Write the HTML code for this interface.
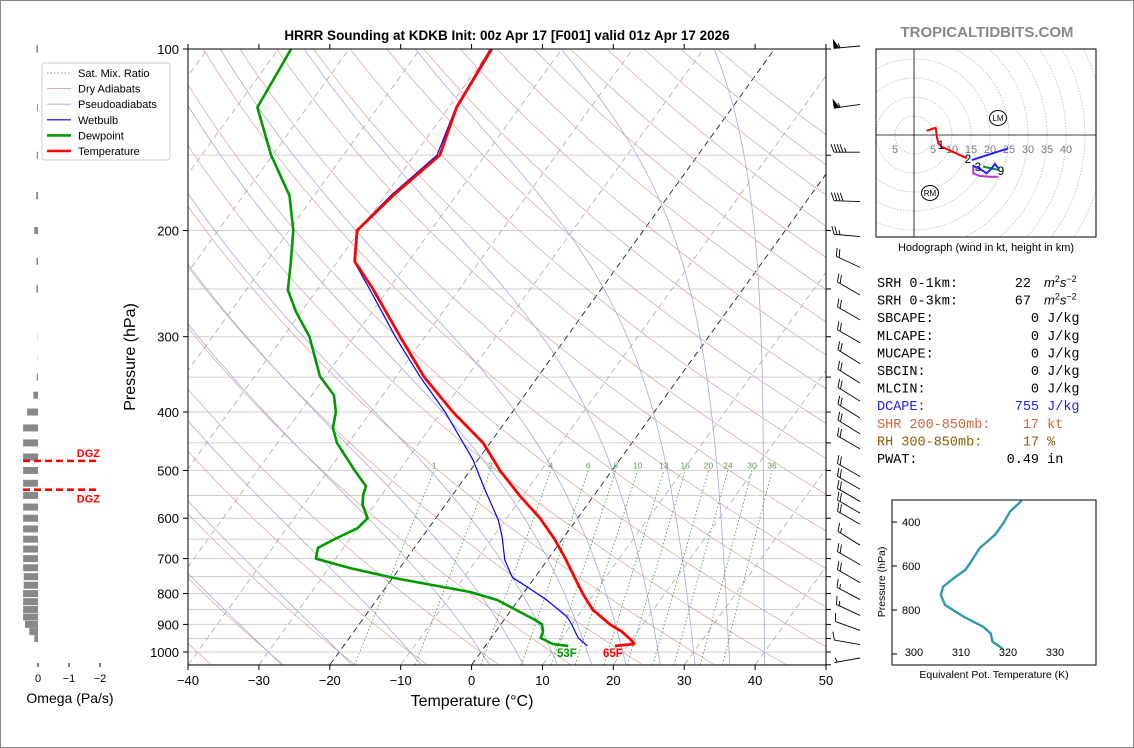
<!DOCTYPE html>
<html><head><meta charset="utf-8"><style>
html,body{margin:0;padding:0;background:#fff;}
svg{display:block;font-family:"Liberation Sans","DejaVu Sans",sans-serif;}
.mono{font-family:"Liberation Mono","DejaVu Sans Mono",monospace;font-size:13.5px;white-space:pre;}
</style></head><body>
<svg id="fig" width="1134" height="748" viewBox="0 0 1134 748" xmlns="http://www.w3.org/2000/svg">
<rect x="0.5" y="0.5" width="1133" height="747" fill="#fff" stroke="#888"/>
<defs><clipPath id="clipMain"><rect x="188" y="49" width="638" height="616"/></clipPath>
<clipPath id="clipHodo"><rect x="876" y="49" width="220" height="188"/></clipPath>
<clipPath id="clipTe"><rect x="892" y="500" width="204" height="165"/></clipPath></defs>
<text x="507" y="40" text-anchor="middle" font-size="13.5" font-weight="bold">HRRR Sounding at KDKB Init: 00z Apr 17 [F001] valid 01z Apr 17 2026</text>
<text x="987" y="37" text-anchor="middle" font-size="15" font-weight="bold" fill="#888">TROPICALTIDBITS.COM</text>
<g id="main"></g>
<g id="omega"></g>
<g id="hodo"></g>
<g id="te"></g>
<g id="stats"></g>
</svg>
<script>
// ---- Data ----
const tempP = [100,125,150,175,200,225,250,300,350,400,450,500,550,600,650,700,750,800,850,900,925,950,970];
const tempT = [-59.9,-58.9,-56.4,-58.9,-60.4,-57.6,-52.2,-43.5,-36.0,-28.4,-21.0,-15.8,-10.5,-5.3,-1.1,2.4,5.5,8.4,11.4,15.4,17.8,19.6,20.9];
const dewP = [100,125,150,175,200,225,251,273,300,349,375,400,425,450,500,531,549,570,600,623,652,672,700,726,754,795,820,858,885,900,926,948,970,977];
const dewT = [-88.2,-87.0,-80.2,-73.5,-69.4,-66.6,-64.1,-60.7,-56.3,-50.8,-46.9,-44.9,-43.7,-41.6,-36.3,-33.1,-32.6,-31.7,-29.6,-30.0,-32.3,-33.6,-32.8,-27.0,-19.7,-7.7,-3.0,1.4,4.4,5.8,6.7,7.0,9.3,11.7];
const wbP = [100,125,150,175,200,225,251,300,349,400,450,480,539,604,645,704,753,780,820,875,902,948,977];
const wbT = [-60.1,-59.0,-56.8,-59.2,-60.5,-57.7,-52.5,-44.2,-36.7,-29.5,-23.8,-20.7,-15.9,-11.0,-8.7,-6.0,-3.1,-0.1,4.0,8.6,10.1,12.3,14.4];
const xTicks = [-40,-30,-20,-10,0,10,20,30,40,50];
const yTicks = [100,200,300,400,500,600,700,800,900,1000];
const mixW = [1,2,4,6,8,10,13,16,20,24,30,36];
const dryT0 = [-40,-30,-20,-10,0,10,20,30,40,50,60,70,80,90,100,110,120,130,140,150,160,170,180,190,200];
const moistT0 = [-30,-20,-10,0,5,10,15,20,25,30,35,40];
const barbP = [100,125,150,175,200,225,250,275,300,325,350,375,400,425,450,500,525,550,575,600,650,700,750,800,850,900,950,1000];
const barbSpd = [55,55,45,40,25,20,20,20,20,20,20,20,20,20,20,20,20,20,20,20,15,20,20,15,15,10,10,5];
const barbDir = [265,262,270,272,275,295,300,300,300,302,302,302,302,302,300,300,300,300,300,300,302,300,300,298,295,290,280,260];
const omegaP = [100,125,150,175,200,225,250,300,325,350,375,400,425,450,475,500,525,550,575,600,625,650,675,700,725,750,775,800,825,850,875,900,925,950];
const omegaV = [0.05,0.03,0.04,0.06,0.12,0.05,0.05,0.03,0.03,0.04,0.15,0.35,0.48,0.48,0.48,0.48,0.48,0.48,0.48,0.48,0.48,0.48,0.48,0.48,0.48,0.46,0.46,0.48,0.48,0.48,0.48,0.42,0.28,0.12];
const omegaYellow = [0,0,0,0,0,0,0,1,1,0,0,0,0,0,0,0,0,0,0,0,0,0,0,0,0,0,0,0,0,0,0,0,0,0];
const dgzP = [482,538];
const hodoRedU = [3.3,5.7,6.0,6.4,7.3,13.9], hodoRedV = [1.1,1.9,-0.4,-2.2,-3.1,-6.1];
const hodoBlueU = [15.2,24.8], hodoBlueV = [-6.6,-3.5];
const hodoMagU = [15.6,15.6,17.4,20,22.2], hodoMagV = [-8.3,-10.1,-10.8,-11,-11];
const hodoGreenU = [18.2,22.2], hodoGreenV = [-8.3,-9.2];
const hodoBlue2U = [15.4,17.8,19.1,20.4,21.3,22.2], hodoBlue2V = [-8.0,-9.2,-10.1,-8.8,-7.6,-8.8];
const hodoRings = [5,10,15,20,25,30,35,40,45,50,55];
const teP = [303,353,406,459,518,588,618,656,694,732,777,830,876,906,944,967,979];
const teK = [322.9,320.4,319,317.2,314.0,311.9,310.9,308.4,306.2,305.7,306.6,310.5,314.7,316.3,316.7,318.3,319];
const teXTicks = [300,310,320,330];
const teYTicks = [400,600,800];

// ---- helpers ----
const NS = 'http://www.w3.org/2000/svg';
function mk(parent, tag, attrs, text){const e=document.createElementNS(NS,tag);for(const k in attrs)e.setAttribute(k,attrs[k]);if(text!==undefined)e.textContent=text;parent.appendChild(e);return e;}
const yP = p => 49 + 603*Math.log10(p/100);
const xT = (T,p) => 188 + (T+40)*7.0889 + (665 - yP(p))*0.722;
const ptsStr = (ps,ts) => ps.map((p,i)=>xT(ts[i],p).toFixed(1)+','+yP(p).toFixed(1)).join(' ');

const main = document.getElementById('main');
const bg = mk(main,'g',{'clip-path':'url(#clipMain)'});


for(let p=100;p<=1050;p+=50){const l=mk(bg,'line',{x1:188,x2:826,y1:yP(p),y2:yP(p),stroke:'#cfcfcf','stroke-width':1});

}
for(let T=-130;T<=50;T+=10){const hi=(T===0||T===-20);const l=mk(bg,'line',{x1:xT(T,1050),y1:yP(1050),x2:xT(T,100),y2:yP(100),stroke:hi?'#222':'#aaa','stroke-width':hi?0.9:0.8,'stroke-dasharray':'6,4'});

}
for(const t0 of dryT0){const th=t0+273.15;const pts=[];for(let p=1050;p>=100;p-=10){pts.push(xT(th*Math.pow(p/1000,0.2857)-273.15,p).toFixed(1)+','+yP(p).toFixed(1));}
const l=mk(bg,'polyline',{points:pts.join(' '),fill:'none',stroke:'#dcabab','stroke-width':0.8});

}
function es(T){return 6.112*Math.exp(17.67*T/(T+243.5));}
function dTdp(T,p){const Tk=T+273.15;const rs=0.622*es(T)/(p-es(T));const Rd=287,cp=1005,Lv=2.5e6;return (Rd*Tk+Lv*rs)/(p*(cp+Lv*Lv*rs*0.622/(Rd*Tk*Tk)));}
for(const t0 of moistT0){const pts=[];
 let Td=t0;for(let q=1000;q<1050;q+=5){Td+=dTdp(Td,q)*5;}
 let T=Td;for(let p=1050;p>=100;p-=5){pts.push(xT(T,p).toFixed(1)+','+yP(p).toFixed(1));T-=dTdp(T,p)*5;}
 const l=mk(bg,'polyline',{points:pts.join(' '),fill:'none',stroke:'#a8a8dc','stroke-width':0.8});
 
 }
function tdFromW(w,p){const e=w*p/(622+w);const a=Math.log(e/6.112);return 243.5*a/(17.67-a);}
for(const w of mixW){const l=mk(bg,'line',{x1:xT(tdFromW(w,1050),1050),y1:yP(1050),x2:xT(tdFromW(w,500),500),y2:yP(500),stroke:'#3c963c','stroke-width':0.8,'stroke-dasharray':'1.5,2.2'});


const t=mk(bg,'text',{x:xT(tdFromW(w,500),500),y:yP(500)-2,'font-size':8.5,fill:'#5a9a5a','text-anchor':'middle'},String(w));

}
const prof = mk(main,'g',{'clip-path':'url(#clipMain)'});
const wb=mk(prof,'polyline',{points:ptsStr(wbP,wbT),fill:'none',stroke:'#0000ff','stroke-width':1.2});


const dw=mk(prof,'polyline',{points:ptsStr(dewP,dewT),fill:'none',stroke:'#009900','stroke-width':2.6,'stroke-linejoin':'round'});


const tp=mk(prof,'polyline',{points:ptsStr(tempP,tempT),fill:'none',stroke:'#ff0000','stroke-width':2.8,'stroke-linejoin':'round'});


const t2=mk(prof,'line',{x1:xT(18.3,977),y1:yP(977),x2:xT(tempT[tempT.length-1],970),y2:yP(970),stroke:'#ff0000','stroke-width':2.8});


let lb=mk(main,'text',{x:557,y:657,'font-size':11.5,'font-weight':'bold',fill:'#009900'},'53F');


lb=mk(main,'text',{x:603,y:657,'font-size':11.5,'font-weight':'bold',fill:'#ff0000'},'65F');


const fr=mk(main,'rect',{x:188,y:49,width:638,height:616,fill:'none',stroke:'#000','stroke-width':1});


for(const T of xTicks){const x=188+(T+40)*7.0889;
 mk(main,'line',{x1:x,x2:x,y1:665,y2:670,stroke:'#000'});
 mk(main,'line',{x1:x,x2:x,y1:49,y2:44,stroke:'#000'});
 const t=mk(main,'text',{x:x,y:685,'font-size':13,'text-anchor':'middle'},T<0?'\u2212'+(-T):String(T));
 
 }
for(const p of yTicks){const y=yP(p);mk(main,'line',{x1:183,x2:188,y1:y,y2:y,stroke:'#000'});
 const t=mk(main,'text',{x:179,y:y+5,'font-size':13,'text-anchor':'end'},String(p));
 
 }
for(let p=100;p<=1050;p+=50){mk(main,'line',{x1:826,x2:831,y1:yP(p),y2:yP(p),stroke:'#000'});}
let ax=mk(main,'text',{x:472,y:706,'font-size':16,'text-anchor':'middle'},'Temperature (\u00B0C)');


ax=mk(main,'text',{x:0,y:0,'font-size':16,'text-anchor':'middle',transform:'translate(135,357) rotate(-90)'},'Pressure (hPa)');


// barbs
for(let i=0;i<barbP.length;i++){const g=mk(main,'g',{stroke:'#000','stroke-width':0.9,fill:'#000'});
 
 
 const bx=860,by=yP(barbP[i])+(barbP[i]<=150?-3:6);
 const a=(barbDir[i])*Math.PI/180;
 const dx=Math.sin(a),dy=-Math.cos(a);const L=26;
 const ex=bx+dx*L,ey=by+dy*L;mk(g,'line',{x1:bx,y1:by,x2:ex,y2:ey});
 const px=-dy,py=dx; // perpendicular (upward side)
 let s=Math.round(barbSpd[i]/5)*5,pos=0;
 while(s>=50){const x0=ex-dx*pos,y0=ey-dy*pos;mk(g,'polygon',{points:`${x0},${y0} ${x0+px*8},${y0+py*8} ${x0-dx*5},${y0-dy*5}`});pos+=6;s-=50;}
 while(s>=10){const x0=ex-dx*pos,y0=ey-dy*pos;mk(g,'line',{x1:x0,y1:y0,x2:x0+px*8+dx*3,y2:y0+py*8+dy*3});pos+=3;s-=10;}
 if(s>=5){if(pos===0)pos=3;const x0=ex-dx*pos,y0=ey-dy*pos;mk(g,'line',{x1:x0,y1:y0,x2:x0+px*4.5+dx*1.5,y2:y0+py*4.5+dy*1.5});}
}
const lg=mk(main,'g',{});


mk(lg,'rect',{x:42,y:63,width:128,height:97,rx:3,fill:'#fff',stroke:'#ccc'});
const legItems=[['Sat. Mix. Ratio','#3c963c',0.8,'1.5,2'],['Dry Adiabats','#d9a3a3',0.9,''],['Pseudoadiabats','#a3a3dc',0.9,''],['Wetbulb','#0000cc',1.2,''],['Dewpoint','#009900',2.6,''],['Temperature','#ff0000',2.6,'']];
legItems.forEach((it,i)=>{const y=73+i*15.6;const e=mk(lg,'line',{x1:47,x2:71,y1:y,y2:y,stroke:it[1],'stroke-width':it[2]});if(it[3])e.setAttribute('stroke-dasharray',it[3]);
 const t=mk(lg,'text',{x:78,y:y+4,'font-size':11},it[0]);
 
 });

// ---- omega panel ----
const om=document.getElementById('omega');
const xO=v=>38-v*31;
for(let i=0;i<omegaP.length;i++){const y=yP(omegaP[i]);const r=mk(om,'rect',{x:xO(omegaV[i]),y:y-3.5,width:38-xO(omegaV[i]),height:7,fill:omegaYellow[i]?'#ffff00':'#888'});
 
 }
for(const p of dgzP){const l=mk(om,'line',{x1:23,x2:100,y1:yP(p),y2:yP(p),stroke:'#ff0000','stroke-width':2.6,'stroke-dasharray':'7,4'});
 
 }
lb=mk(om,'text',{x:100,y:yP(dgzP[0])-4,'font-size':11,'font-weight':'bold',fill:'#ff0000','text-anchor':'end'},'DGZ');


lb=mk(om,'text',{x:100,y:yP(dgzP[1])+13,'font-size':11,'font-weight':'bold',fill:'#ff0000','text-anchor':'end'},'DGZ');


[0,-1,-2].forEach(v=>{const x=xO(v);mk(om,'line',{x1:x,x2:x,y1:663,y2:667,stroke:'#000'});
 const t=mk(om,'text',{x:x,y:682,'font-size':11,'text-anchor':'middle'},v===0?'0':'\u2212'+(-v));
 
 });
lb=mk(om,'text',{x:70,y:703,'font-size':14,'text-anchor':'middle'},'Omega (Pa/s)');



// ---- hodograph ----
const ho=document.getElementById('hodo');
const HX=914,HY=135,HS=3.8;
const hx=u=>HX+u*HS, hy=v=>HY-v*HS;
const hc=mk(ho,'g',{'clip-path':'url(#clipHodo)'});
for(const r of hodoRings){mk(hc,'circle',{cx:HX,cy:HY,r:r*HS,fill:'none',stroke:'#bbb','stroke-width':0.8,'stroke-dasharray':'1.5,1.5'});}
mk(hc,'line',{x1:876,x2:1096,y1:HY,y2:HY,stroke:'#000','stroke-width':0.8});
mk(hc,'line',{x1:HX,x2:HX,y1:49,y2:237,stroke:'#000','stroke-width':0.8});
[5,10,15,20,25,30,35,40].forEach(r=>{const t=mk(hc,'text',{x:hx(r),y:HY+18,'font-size':11,fill:'#777','text-anchor':'middle'},String(r));
 
 });
mk(hc,'text',{x:hx(-5),y:HY+18,'font-size':11,fill:'#777','text-anchor':'middle'},'5');
function hline(U,V,c,name){const l=mk(hc,'polyline',{points:U.map((u,i)=>hx(u)+','+hy(V[i])).join(' '),fill:'none',stroke:c,'stroke-width':2});
 
 }
hline(hodoMagU,hodoMagV,'#bb33cc','hodograph-3-6km');
hline(hodoGreenU,hodoGreenV,'#009900','hodograph-6-9km');
hline(hodoBlue2U,hodoBlue2V,'#2222ff','hodograph-upper');
hline(hodoRedU,hodoRedV,'#ff0000','hodograph-0-2km');
hline(hodoBlueU,hodoBlueV,'#2222ff','hodograph-2-3km');
[['1',941,149],['2',968,163],['3',978,171],['9',1001,175]].forEach(a=>mk(hc,'text',{x:a[1],y:a[2],'font-size':11.5,'text-anchor':'middle'},a[0]));
[['LM',998,118],['RM',930,193]].forEach(a=>{mk(hc,'ellipse',{cx:a[1],cy:a[2],rx:8.5,ry:7.5,fill:'none',stroke:'#000','stroke-width':1});
 const t=mk(hc,'text',{x:a[1],y:a[2]+3,'font-size':8,'text-anchor':'middle'},a[0]);
 
 });
mk(ho,'rect',{x:876,y:49,width:220,height:188,fill:'none',stroke:'#000'});
lb=mk(ho,'text',{x:986,y:251,'font-size':11,'text-anchor':'middle'},'Hodograph (wind in kt, height in km)');



// ---- theta-e ----
const te=document.getElementById('te');
const tx=k=>914+(k-300)*4.7, ty=p=>522+(p-400)*0.22;
const tl=mk(te,'polyline',{points:teP.map((p,i)=>tx(teK[i]).toFixed(1)+','+ty(p).toFixed(1)).join(' '),fill:'none',stroke:'#3399aa','stroke-width':2.4,'clip-path':'url(#clipTe)'});


mk(te,'rect',{x:892,y:500,width:204,height:165,fill:'none',stroke:'#000'});
for(const p of teYTicks){mk(te,'line',{x1:892,x2:897,y1:ty(p),y2:ty(p),stroke:'#000'});
 const t=mk(te,'text',{x:902,y:ty(p)+4,'font-size':11},String(p));
 
 }
mk(te,'line',{x1:892,x2:897,y1:ty(1000),y2:ty(1000),stroke:'#000'});
for(const k of teXTicks){const t=mk(te,'text',{x:tx(k),y:656,'font-size':11,'text-anchor':'middle'},String(k));
 
 }
lb=mk(te,'text',{x:994,y:678,'font-size':10.5,'text-anchor':'middle'},'Equivalent Pot. Temperature (K)');


lb=mk(te,'text',{x:0,y:0,'font-size':10.5,'text-anchor':'middle',transform:'translate(885,582) rotate(-90)'},'Pressure (hPa)');



// ---- stats ----
const st=document.getElementById('stats');
const rows=[['SRH 0-1km:       22 ','#000',true],['SRH 0-3km:       67 ','#000',true],['SBCAPE:            0 J/kg','#000'],['MLCAPE:            0 J/kg','#000'],['MUCAPE:            0 J/kg','#000'],['SBCIN:             0 J/kg','#000'],['MLCIN:             0 J/kg','#000'],['DCAPE:           755 J/kg','#2222ee'],['SHR 200-850mb:    17 kt','#d2643c'],['RH 300-850mb:     17 %','#8b5a00'],['PWAT:           0.49 in','#000']];
rows.forEach((r,i)=>{const y=287+i*17.6;const t=mk(st,'text',{x:877,y:y,fill:r[1],'class':'mono'},r[0]);
 
 
 if(r[2]){const u=mk(st,'text',{x:1044,y:y,'font-size':13,'font-style':'italic'});u.innerHTML='m<tspan dy="-5" font-size="9" font-style="normal">2</tspan><tspan dy="5">s</tspan><tspan dy="-5" font-size="9" font-style="normal">\u22122</tspan>';}});
</script>
</body></html>
